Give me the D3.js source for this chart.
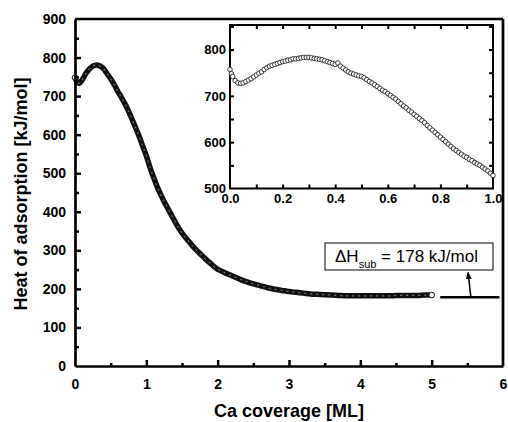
<!DOCTYPE html>
<html>
<head>
<meta charset="utf-8">
<script src="https://cdn.jsdelivr.net/npm/d3@7"></script>
<style>
  body { margin: 0; background: #fff; }
  text { font-family: "Liberation Sans", Arial, sans-serif; }
</style>
</head>
<body>
<div id="chart"></div>
<script>
// main curve: Ca coverage [ML] vs heat of adsorption [kJ/mol]
const coverage = [0.00, 0.03, 0.06, 0.10, 0.15, 0.20, 0.25, 0.30, 0.35, 0.40, 0.45, 0.50, 0.55, 0.60,
  0.65, 0.70, 0.75, 0.80, 0.85, 0.90, 0.95, 1.00, 1.05, 1.10, 1.15, 1.20, 1.25, 1.30, 1.35, 1.40,
  1.45, 1.50, 1.55, 1.60, 1.65, 1.70, 1.75, 1.80, 1.85, 1.90, 1.95, 2.00, 2.10, 2.20, 2.30, 2.40,
  2.50, 2.60, 2.70, 2.80, 2.90, 3.00, 3.10, 3.20, 3.30, 3.40, 3.50, 3.60, 3.70, 3.80, 3.90, 4.00,
  4.10, 4.20, 4.30, 4.40, 4.50, 4.60, 4.70, 4.80, 4.90, 5.00];
const heat = [748, 736, 733, 742, 758, 770, 778, 781, 778, 771, 758, 745, 730, 712,
  697, 680, 661, 640, 618, 595, 570, 545, 516, 490, 466, 445, 426, 409, 392, 375,
  359, 345, 333, 322, 311, 301, 292, 283, 274, 266, 258, 251, 242, 234, 226, 219,
  213, 208, 203, 199, 196, 193, 191, 189, 187, 186, 185, 184, 183, 182, 182, 182,
  182, 182, 182, 182, 183, 183, 183, 183, 184, 184];

// inset: first monolayer
const insetCoverage = [0.000, 0.005, 0.01, 0.02, 0.03, 0.04, 0.05, 0.06, 0.07, 0.08, 0.09,
  0.10, 0.11, 0.12, 0.13, 0.14, 0.15, 0.16, 0.17, 0.18, 0.19,
  0.20, 0.21, 0.22, 0.23, 0.24, 0.25, 0.26, 0.27, 0.28, 0.29,
  0.30, 0.31, 0.32, 0.33, 0.34, 0.35, 0.36, 0.37, 0.38, 0.39,
  0.40, 0.41, 0.42, 0.43, 0.44, 0.45, 0.46, 0.47, 0.48, 0.49,
  0.50, 0.51, 0.52, 0.53, 0.54, 0.55, 0.56, 0.57, 0.58, 0.59,
  0.60, 0.61, 0.62, 0.63, 0.64, 0.65, 0.66, 0.67, 0.68, 0.69,
  0.70, 0.71, 0.72, 0.73, 0.74, 0.75, 0.76, 0.77, 0.78, 0.79,
  0.80, 0.81, 0.82, 0.83, 0.84, 0.85, 0.86, 0.87, 0.88, 0.89,
  0.90, 0.91, 0.92, 0.93, 0.94, 0.95, 0.96, 0.97, 0.98, 0.99, 1.00];
const insetHeat = [757, 748, 742, 733, 728, 727, 728, 731, 734, 737, 741,
  745, 749, 752, 757, 761, 764, 766, 768, 770, 772,
  774, 775, 777, 778, 780, 780, 781, 782, 783, 783,
  783, 782, 781, 780, 779, 778, 776, 774, 772, 770,
  768, 771, 764, 760, 756, 752, 749, 747, 745, 743,
  742, 739, 735, 731, 728, 724, 720, 716, 712, 709,
  705, 701, 697, 693, 688, 683, 678, 674, 669, 665,
  660, 656, 651, 647, 642, 636, 631, 626, 621, 616,
  611, 606, 601, 596, 591, 586, 582, 578, 574, 570,
  567, 563, 560, 556, 553, 550, 546, 542, 538, 533, 528];

const sublimation = 178;
const xTicks = [0, 1, 2, 3, 4, 5, 6];
const yTicks = [0, 100, 200, 300, 400, 500, 600, 700, 800, 900];
const insetXTicks = [0, 0.2, 0.4, 0.6, 0.8, 1.0];
const insetYTicks = [500, 600, 700, 800];

const width = 508, height = 422;
const svg = d3.select("#chart").append("svg")
  .attr("width", width).attr("height", height);

const x = d3.scaleLinear().domain([0, 6]).range([75, 503]);
const y = d3.scaleLinear().domain([0, 900]).range([366, 19]);

// main curve (dense overlapping markers -> dark band)
const line = d3.line().x((d, i) => x(coverage[i])).y(d => y(d)).curve(d3.curveMonotoneX);
svg.append("path").datum(heat)
  .attr("d", line).attr("fill", "none")
  .attr("stroke", "#111").attr("stroke-width", 5.5);
svg.append("path").datum(heat)
  .attr("d", line).attr("fill", "none")
  .attr("stroke", "#777").attr("stroke-width", 1.2).attr("stroke-dasharray", "2,4");
svg.append("g").selectAll("circle")
  .data([0, heat.length - 1])
  .enter().append("circle")
  .attr("cx", i => x(coverage[i]))
  .attr("cy", i => y(heat[i]))
  .attr("r", 2.8).attr("fill", "#fff").attr("stroke", "#111").attr("stroke-width", 1);

// axes
const xAxis = d3.axisBottom(x).tickValues(xTicks).tickFormat(d3.format("d"))
  .tickSizeInner(-6).tickSizeOuter(0).tickPadding(13);
const gx = svg.append("g").attr("transform", "translate(0," + y(0) + ")").call(xAxis);
gx.selectAll(".tick").filter(d => d === 0 || d === 6).select("line").remove();
svg.append("g").attr("transform", "translate(0," + y(0) + ")")
  .call(d3.axisBottom(x).tickValues(d3.range(0.5, 6, 1)).tickFormat("").tickSizeInner(-3).tickSizeOuter(0))
  .select(".domain").remove();

const yAxis = d3.axisLeft(y).tickValues(yTicks).tickFormat(d3.format("d"))
  .tickSizeInner(-6).tickSizeOuter(0).tickPadding(9);
const gy = svg.append("g").attr("transform", "translate(" + x(0) + ",0)").call(yAxis);
gy.selectAll(".tick").filter(d => d === 0 || d === 900).select("line").remove();
svg.append("g").attr("transform", "translate(" + x(0) + ",0)")
  .call(d3.axisLeft(y).tickValues(d3.range(50, 900, 100)).tickFormat("").tickSizeInner(-4).tickSizeOuter(0))
  .select(".domain").remove();

svg.selectAll(".tick line").attr("stroke-width", 2.5);
svg.selectAll(".domain").attr("stroke-width", 2.7);
gx.selectAll("text").attr("font-size", 14).attr("font-weight", "bold").attr("fill", "#000");
gy.selectAll("text").attr("font-size", 14).attr("font-weight", "bold").attr("fill", "#000");

// top and right frame lines
svg.append("line").attr("x1", x(0)).attr("x2", x(6)).attr("y1", y(900)).attr("y2", y(900))
  .attr("stroke", "#000").attr("stroke-width", 2.7);
svg.append("line").attr("x1", x(6)).attr("x2", x(6)).attr("y1", y(900)).attr("y2", y(0))
  .attr("stroke", "#000").attr("stroke-width", 2.7);

svg.append("text").attr("x", 289).attr("y", 417)
  .attr("text-anchor", "middle").attr("font-size", 18).attr("font-weight", "bold")
  .text("Ca coverage [ML]");
svg.append("text").attr("transform", "translate(27,194) rotate(-90)")
  .attr("text-anchor", "middle").attr("font-size", 18).attr("font-weight", "bold")
  .text("Heat of adsorption [kJ/mol]");

// sublimation enthalpy marker
svg.append("line").attr("x1", x(5.12)).attr("x2", x(5.95))
  .attr("y1", y(sublimation)).attr("y2", y(sublimation))
  .attr("stroke", "#000").attr("stroke-width", 2.5);
svg.append("defs").append("marker").attr("id", "arrow")
  .attr("viewBox", "0 0 10 10").attr("refX", 9).attr("refY", 5)
  .attr("markerWidth", 5).attr("markerHeight", 6).attr("orient", "auto")
  .append("path").attr("d", "M0,1 L10,5 L0,9 Z").attr("fill", "#000");
svg.append("line").attr("x1", x(5.55)).attr("y1", y(sublimation))
  .attr("x2", x(5.51)).attr("y2", y(sublimation) - 25)
  .attr("stroke", "#000").attr("stroke-width", 1.5).attr("marker-end", "url(#arrow)");
svg.append("rect").attr("x", 325).attr("y", 243).attr("width", 168).attr("height", 27)
  .attr("fill", "#fff").attr("stroke", "#000").attr("stroke-width", 1);
const lab = svg.append("text").attr("x", 335).attr("y", 262).attr("font-size", 17);
lab.append("tspan").text("\u0394H");
lab.append("tspan").attr("dy", 6).attr("font-size", 11).text("sub");
lab.append("tspan").attr("dy", -6).text(" = " + sublimation + " kJ/mol");

// inset
const ix = d3.scaleLinear().domain([0, 1]).range([230, 493]);
const iy = d3.scaleLinear().domain([500, 853]).range([188.5, 25]);
const inset = svg.append("g");
inset.append("rect").attr("x", ix(0)).attr("y", iy(853))
  .attr("width", ix(1) - ix(0)).attr("height", iy(500) - iy(853))
  .attr("fill", "#fff").attr("stroke", "#000").attr("stroke-width", 2);

const minorX = d3.range(0.1, 1, 0.1);
const minorY = d3.range(550, 853, 50);
inset.append("g").attr("transform", "translate(0," + iy(500) + ")")
  .call(d3.axisBottom(ix).tickValues(minorX).tickFormat("").tickSizeInner(-4).tickSizeOuter(0));
inset.append("g").attr("transform", "translate(0," + iy(853) + ")")
  .call(d3.axisTop(ix).tickValues(minorX).tickFormat("").tickSizeInner(-4).tickSizeOuter(0));
inset.append("g").attr("transform", "translate(" + ix(0) + ",0)")
  .call(d3.axisLeft(iy).tickValues(minorY).tickFormat("").tickSizeInner(-4).tickSizeOuter(0));
inset.append("g").attr("transform", "translate(" + ix(1) + ",0)")
  .call(d3.axisRight(iy).tickValues(minorY).tickFormat("").tickSizeInner(-4).tickSizeOuter(0));
inset.selectAll(".domain").remove();
inset.selectAll(".tick line").attr("stroke-width", 2);

const ixl = inset.append("g").attr("transform", "translate(0," + iy(500) + ")")
  .call(d3.axisBottom(ix).tickValues(insetXTicks).tickFormat(d3.format(".1f")).tickSize(0).tickPadding(5));
const iyl = inset.append("g").attr("transform", "translate(" + ix(0) + ",0)")
  .call(d3.axisLeft(iy).tickValues(insetYTicks).tickFormat(d3.format("d")).tickSize(0).tickPadding(4));
ixl.select(".domain").remove();
iyl.select(".domain").remove();
ixl.selectAll("text").attr("font-size", 13).attr("font-weight", "bold").attr("fill", "#000");
iyl.selectAll("text").attr("font-size", 13).attr("font-weight", "bold").attr("fill", "#000");

inset.append("g").selectAll("circle")
  .data(insetHeat)
  .enter().append("circle")
  .attr("cx", (d, i) => ix(insetCoverage[i]))
  .attr("cy", d => iy(d))
  .attr("r", 2.3).attr("fill", "#fff").attr("stroke", "#222").attr("stroke-width", 0.9);
</script>
</body>
</html>
